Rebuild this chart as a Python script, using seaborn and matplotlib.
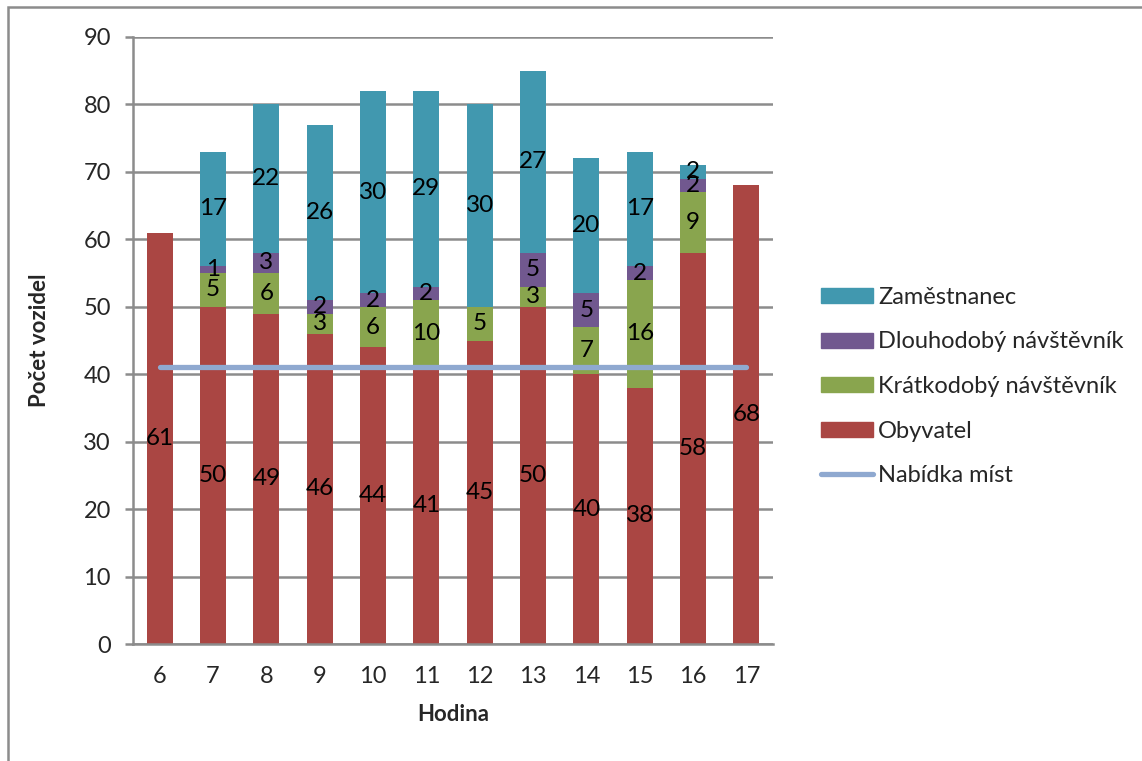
import numpy as np
import pandas as pd
import matplotlib
matplotlib.use('Agg')
import matplotlib.pyplot as plt
import seaborn as sns
from matplotlib.patches import Rectangle, Patch
from matplotlib.lines import Line2D

# data
hodiny = ['6', '7', '8', '9', '10', '11', '12', '13', '14', '15', '16', '17']
obyvatel = [61, 50, 49, 46, 44, 41, 45, 50, 40, 38, 58, 68]
kratkodoby = [0, 5, 6, 3, 6, 10, 5, 3, 7, 16, 9, 0]
dlouhodoby = [0, 1, 3, 2, 2, 2, 0, 5, 5, 2, 2, 0]
zamestnanec = [0, 17, 22, 26, 30, 29, 30, 27, 20, 17, 2, 0]
nabidka = [41] * 12

series = [('Obyvatel', obyvatel, '#AA4643'),
          ('Krátkodobý návštěvník', kratkodoby, '#89A54E'),
          ('Dlouhodobý návštěvník', dlouhodoby, '#71588F'),
          ('Zaměstnanec', zamestnanec, '#4198AF')]

sns.set_style('white')
plt.rcParams['font.family'] = ['Lato', 'DejaVu Sans']

fig = plt.figure(figsize=(11.42, 7.61), dpi=100)
ax = fig.add_axes([0.1165, 0.1537, 0.5604, 0.7977])

df = pd.DataFrame({'Hodina': hodiny})
bottom = np.zeros(len(hodiny))
for name, vals, col in series:
    df[name] = vals
    sns.barplot(data=df, x='Hodina', y=name, order=hodiny, color=col,
                bottom=bottom, width=0.49, ax=ax, saturation=1, linewidth=0)
    for i, v in enumerate(vals):
        if v > 0:
            ax.text(i, bottom[i] + v / 2, str(v), ha='center', va='center',
                    fontsize=17.5, color='black', zorder=5)
    bottom = bottom + np.array(vals)

sns.lineplot(x=np.arange(len(hodiny)), y=nabidka, ax=ax, color='#8FA9D0',
             linewidth=3.8, solid_capstyle='round', zorder=4)

ax.set_xlim(-0.5, len(hodiny) - 0.5)
ax.set_ylim(0, 90)
ax.set_yticks(range(0, 91, 10))
ax.yaxis.grid(True, color='#8C8C8C', linewidth=1.8)
ax.set_axisbelow(True)
for s in ['top', 'right']:
    ax.spines[s].set_visible(False)
for s in ['left', 'bottom']:
    ax.spines[s].set_color('#8C8C8C')
    ax.spines[s].set_linewidth(1.8)

ax.set_xticks(range(len(hodiny)))
ax.set_xticklabels(hodiny)
ax.set_xticks(np.arange(-0.5, len(hodiny)), minor=True)
ax.tick_params(axis='x', which='major', length=0, labelsize=17, pad=16)
ax.tick_params(axis='x', which='minor', length=6, width=1.8, color='#8C8C8C')
ax.tick_params(axis='y', length=6, width=1.8, color='#8C8C8C', labelsize=17, pad=10,
               left=True)

ax.set_xlabel('Hodina', fontsize=16, fontweight='bold', labelpad=12)
ax.set_ylabel('Počet vozidel', fontsize=16, fontweight='bold', labelpad=24)

handles = [Patch(color='#4198AF', label='Zaměstnanec'),
           Patch(color='#71588F', label='Dlouhodobý návštěvník'),
           Patch(color='#89A54E', label='Krátkodobý návštěvník'),
           Patch(color='#AA4643', label='Obyvatel'),
           Line2D([], [], color='#8FA9D0', linewidth=3.8, solid_capstyle='round',
                  label='Nabídka míst')]
fig.legend(handles=handles, loc='center left', bbox_to_anchor=(0.711, 0.492),
           frameon=False, fontsize=17, handlelength=2.2, handleheight=0.6,
           handletextpad=0.2, labelspacing=1.0, borderaxespad=0)

fig.patches.append(Rectangle((8 / 1142, -0.01), 1.0, 1 - 7 / 761 + 0.01,
                             transform=fig.transFigure, fill=False,
                             edgecolor='#8C8C8C', linewidth=1.8))

fig.savefig('out.png', dpi=100)
